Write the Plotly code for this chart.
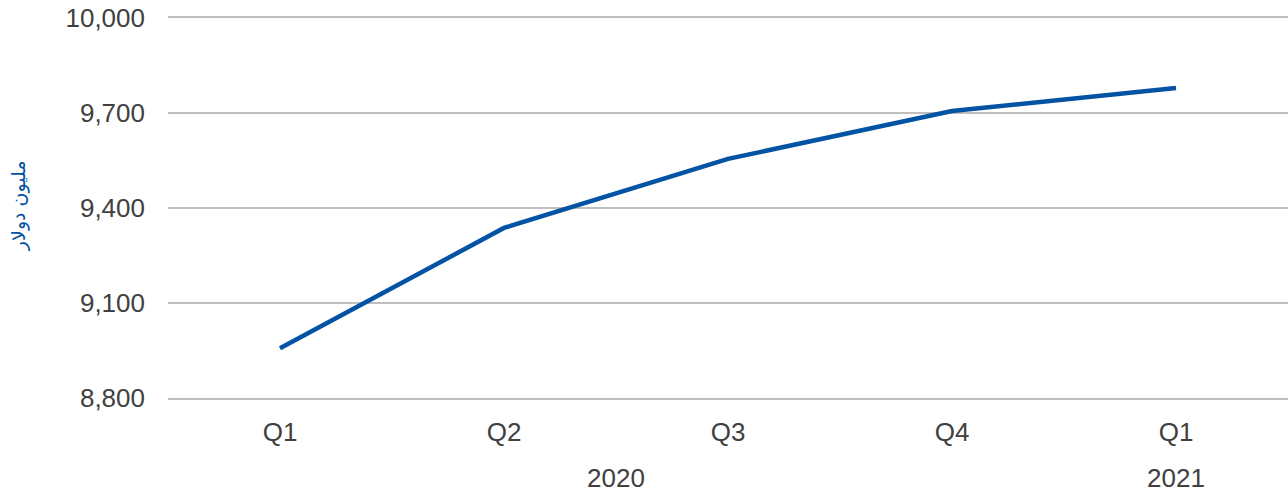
import plotly.graph_objects as go

quarters = ["Q1", "Q2", "Q3", "Q4", "Q1"]
years = ["2020", "2021"]
values = [8957, 9337, 9555, 9706, 9779]
y_ticks = [8800, 9100, 9400, 9700, 10000]

x_pos = list(range(len(quarters)))

fig = go.Figure()
fig.add_trace(go.Scatter(
    x=x_pos, y=values, mode="lines",
    line=dict(color="#0353A4", width=4.5),
    hoverinfo="y",
))

font_family = "Liberation Sans, Arial, sans-serif"
txt = "#404040"
grid = "#BFBFBF"

fig.update_layout(
    width=1288, height=495,
    margin=dict(l=168, r=0, t=18, b=97, autoexpand=False),
    paper_bgcolor="white", plot_bgcolor="white",
    showlegend=False,
    font=dict(family=font_family, color=txt, size=26),
    xaxis=dict(
        range=[-0.5, 4.5], tickmode="array", tickvals=x_pos, ticktext=quarters,
        showgrid=False, zeroline=False, automargin=False,
        showline=True, mirror=True, linecolor=grid, linewidth=2,
        ticks="", ticklabelstandoff=10,
        tickfont=dict(size=26, color=txt),
    ),
    yaxis=dict(
        range=[8800, 10000], tickmode="array", tickvals=y_ticks,
        ticktext=[f"{v:,}" for v in y_ticks],
        showgrid=True, gridcolor=grid, gridwidth=2,
        zeroline=False, showline=False, ticks="", ticklabelstandoff=22,
        automargin=False, ticklabeloverflow="allow",
        tickfont=dict(size=26, color=txt),
    ),
)

fig.add_annotation(x=-0.1339, xanchor="center", y=0.505, xref="paper", yref="paper",
                   text="مليون دولار", textangle=-90, showarrow=False,
                   font=dict(size=19, color="#0353A4",
                             family="DejaVu Sans, Noto Sans, sans-serif"))
fig.add_annotation(x=1.5, y=-0.255, xref="x", yref="paper", text=years[0],
                   showarrow=False, font=dict(size=26, color=txt))
fig.add_annotation(x=4, y=-0.255, xref="x", yref="paper", text=years[1],
                   showarrow=False, font=dict(size=26, color=txt))

fig.write_html("out.html",
               config={"displayModeBar": False},
               post_script="document.body.style.margin='0';")
